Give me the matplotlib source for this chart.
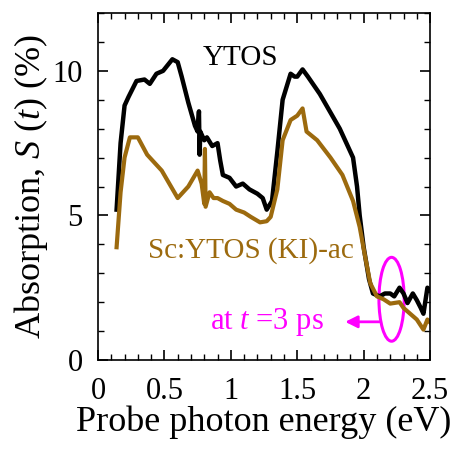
import matplotlib
matplotlib.use("Agg")
import matplotlib.pyplot as plt
from matplotlib.patches import Ellipse
from matplotlib.ticker import MultipleLocator

plt.rcParams['font.family'] = ['Liberation Serif', 'DejaVu Serif']
plt.rcParams['mathtext.fontset'] = 'custom'
plt.rcParams['mathtext.rm'] = 'Liberation Serif'
plt.rcParams['mathtext.it'] = 'Liberation Serif:italic'

# YTOS (black)
ytos_e = [0.14, 0.17, 0.20, 0.23, 0.29, 0.35, 0.39, 0.44, 0.49, 0.56, 0.60, 0.63,
          0.68, 0.73, 0.75, 0.76, 0.765, 0.77, 0.80, 0.82, 0.86, 0.90, 0.92, 0.94,
          0.99, 1.04, 1.09, 1.14, 1.20, 1.24, 1.27, 1.31, 1.35, 1.39, 1.45, 1.48,
          1.50, 1.54, 1.58, 1.67, 1.72, 1.77, 1.82, 1.87, 1.92, 1.95, 1.97, 2.00,
          2.04, 2.07, 2.12, 2.16, 2.20, 2.23, 2.27, 2.30, 2.33, 2.37, 2.40, 2.43,
          2.45, 2.48, 2.50]
ytos_s = [5.2, 7.5, 8.8, 9.1, 9.65, 9.7, 9.55, 9.9, 10.0, 10.4, 10.3, 9.8,
          8.9, 8.1, 7.9, 8.6, 7.1, 7.9, 7.6, 7.7, 7.4, 7.5, 6.9, 6.4,
          6.3, 6.0, 6.1, 5.9, 5.75, 5.6, 5.2, 5.5, 7.2, 9.0, 9.9, 9.8,
          9.8, 10.05, 9.8, 9.2, 8.8, 8.4, 8.0, 7.5, 7.0, 6.0, 5.0, 3.9,
          2.8, 2.3, 2.2, 2.3, 2.3, 2.2, 2.5, 2.3, 1.97, 2.3, 2.07, 1.8,
          1.6, 2.5, 2.4]

# Sc:YTOS (KI)-ac (brown)
sc_e = [0.14, 0.17, 0.20, 0.24, 0.30, 0.37, 0.48, 0.60, 0.68, 0.75, 0.78, 0.80,
        0.805, 0.81, 0.84, 0.87, 0.90, 0.94, 0.99, 1.04, 1.10, 1.15, 1.22, 1.27,
        1.30, 1.35, 1.39, 1.45, 1.50, 1.54, 1.57, 1.65, 1.75, 1.84, 1.92, 1.97,
        2.01, 2.05, 2.10, 2.15, 2.20, 2.27, 2.30, 2.35, 2.40, 2.45, 2.48, 2.50]
sc_s = [3.9, 5.8, 7.0, 7.7, 7.7, 7.1, 6.55, 5.6, 6.0, 6.55, 6.1, 5.4,
        7.3, 5.3, 5.8, 5.6, 5.6, 5.5, 5.4, 5.2, 5.1, 4.95, 4.76, 4.8,
        4.95, 5.9, 7.6, 8.3, 8.45, 8.7, 7.9, 7.6, 7.0, 6.4, 5.5, 4.6,
        3.6, 2.65, 2.2, 2.1, 1.95, 2.0, 1.8, 1.6, 1.4, 1.05, 1.4, 1.3]

fig = plt.figure(figsize=(4.59, 4.55), dpi=100)
ax = fig.add_axes([0.2135, 0.2088, 0.7235, 0.7626])

ax.plot(ytos_e, ytos_s, color='black', lw=3.2)
ax.plot(sc_e, sc_s, color='#9C6A0E', lw=3.0)

ax.set_xlim(0, 2.5)
ax.set_ylim(0, 12)
ax.xaxis.set_major_locator(MultipleLocator(0.5))
ax.xaxis.set_minor_locator(MultipleLocator(0.1))
ax.yaxis.set_major_locator(MultipleLocator(5))
ax.yaxis.set_minor_locator(MultipleLocator(1))
ax.set_xticks([0, 0.5, 1, 1.5, 2, 2.5])
ax.set_xticklabels(['0', '0.5', '1', '1.5', '2', '2.5'])
ax.tick_params(which='both', direction='in', top=True, right=True, labelsize=22)
ax.tick_params(which='major', length=7, width=1.2)
ax.tick_params(which='minor', length=4, width=1.0)
ax.tick_params(axis='x', which='major', pad=12)
ax.tick_params(axis='y', which='major', pad=11)
for sp in ax.spines.values():
    sp.set_linewidth(1.2)

ax.set_xlabel('Probe photon energy (eV)', fontsize=26, labelpad=0)
ax.set_ylabel(r'Absorption, $S$ ($t$) (%)', fontsize=26, labelpad=2)

ax.text(1.07, 10.45, 'YTOS', fontsize=21, ha='center', va='center', color='black')
ax.text(1.15, 3.8, 'Sc:YTOS (KI)-ac', fontsize=21, ha='center', va='center', color='#9C6A0E')
ax.text(1.27, 1.32, r'at $t$ =3 ps', fontsize=22, ha='center', va='center', color='#FF00FF')
ax.annotate('', xy=(1.84, 1.32), xytext=(2.14, 1.32),
            arrowprops=dict(arrowstyle='-|>', color='#FF00FF', lw=2, mutation_scale=18))
ax.add_patch(Ellipse((2.21, 2.1), 0.19, 2.9, fill=False, edgecolor='#FF00FF', lw=2.2))

fig.savefig('out.png', dpi=100)
